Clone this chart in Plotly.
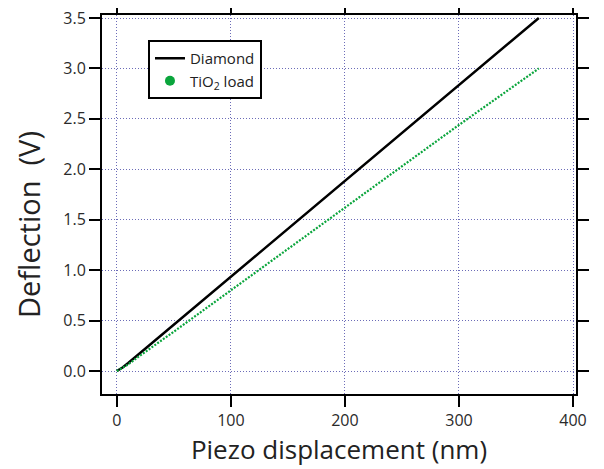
import plotly.graph_objects as go

piezo_nm = [0, 5, 10, 20, 50, 100, 150, 200, 250, 300, 350, 370]
diamond_V = [0, 0.035, 0.08, 0.175, 0.46, 0.935, 1.41, 1.89, 2.365, 2.84, 3.31, 3.5]
tio2_V = [0, 0.03, 0.065, 0.15, 0.39, 0.80, 1.21, 1.62, 2.03, 2.44, 2.84, 3.0]

x_ticks = [0, 100, 200, 300, 400]
y_ticks = [0.0, 0.5, 1.0, 1.5, 2.0, 2.5, 3.0, 3.5]

GREEN = "#0aa53c"
FONT = "Open Sans"

fig = go.Figure()
fig.add_trace(go.Scatter(x=piezo_nm, y=diamond_V, mode="lines", name="Diamond",
                         line=dict(color="black", width=2.5)))
fig.add_trace(go.Scatter(x=piezo_nm, y=tio2_V, mode="lines", name="TiO<sub>2</sub> load",
                         line=dict(color=GREEN, width=2.2, dash="2px,1.5px"), showlegend=False))
fig.add_trace(go.Scatter(x=[None], y=[None], mode="markers", name="TiO<sub>2</sub> load",
                         marker=dict(color=GREEN, size=10)))

axis_common = dict(showline=True, linecolor="black", linewidth=2, mirror="ticks",
                   ticks="outside", ticklen=11, tickwidth=2, tickcolor="black",
                   showgrid=True, gridcolor="#6c6cb8", griddash="1px,2px", gridwidth=1,
                   zeroline=False, automargin=False, ticklabeloverflow="allow",
                   tickfont=dict(family=FONT, size=16, color="#2a2a2a"))

fig.update_xaxes(range=[-13, 402.6], tickvals=x_ticks, ticktext=[str(v) for v in x_ticks],
                 title=dict(text="Piezo displacement (nm)", font=dict(family=FONT, size=26, color="#222222"),
                            standoff=6),
                 **axis_common)
fig.update_yaxes(range=[-0.228, 3.53], tickvals=y_ticks, ticktext=[f"{v:.1f}" for v in y_ticks],
                 **axis_common)

fig.add_annotation(text="Deflection\u00a0\u00a0(V)", textangle=-90, showarrow=False,
                   xref="paper", yref="paper", x=-0.154, y=0.446,
                   xanchor="center", yanchor="middle",
                   font=dict(family=FONT, size=29, color="#222222"))

fig.update_layout(
    width=604, height=469,
    margin=dict(l=94, r=36, t=7, b=83),
    plot_bgcolor="white", paper_bgcolor="white",
    font=dict(family=FONT),
    legend=dict(x=0.097, y=0.934, xanchor="left", yanchor="top",
                bgcolor="white", bordercolor="black", borderwidth=2,
                font=dict(family=FONT, size=15, color="#222222"),
                tracegroupgap=0, itemwidth=30),
)

fig.write_html("out.html")
